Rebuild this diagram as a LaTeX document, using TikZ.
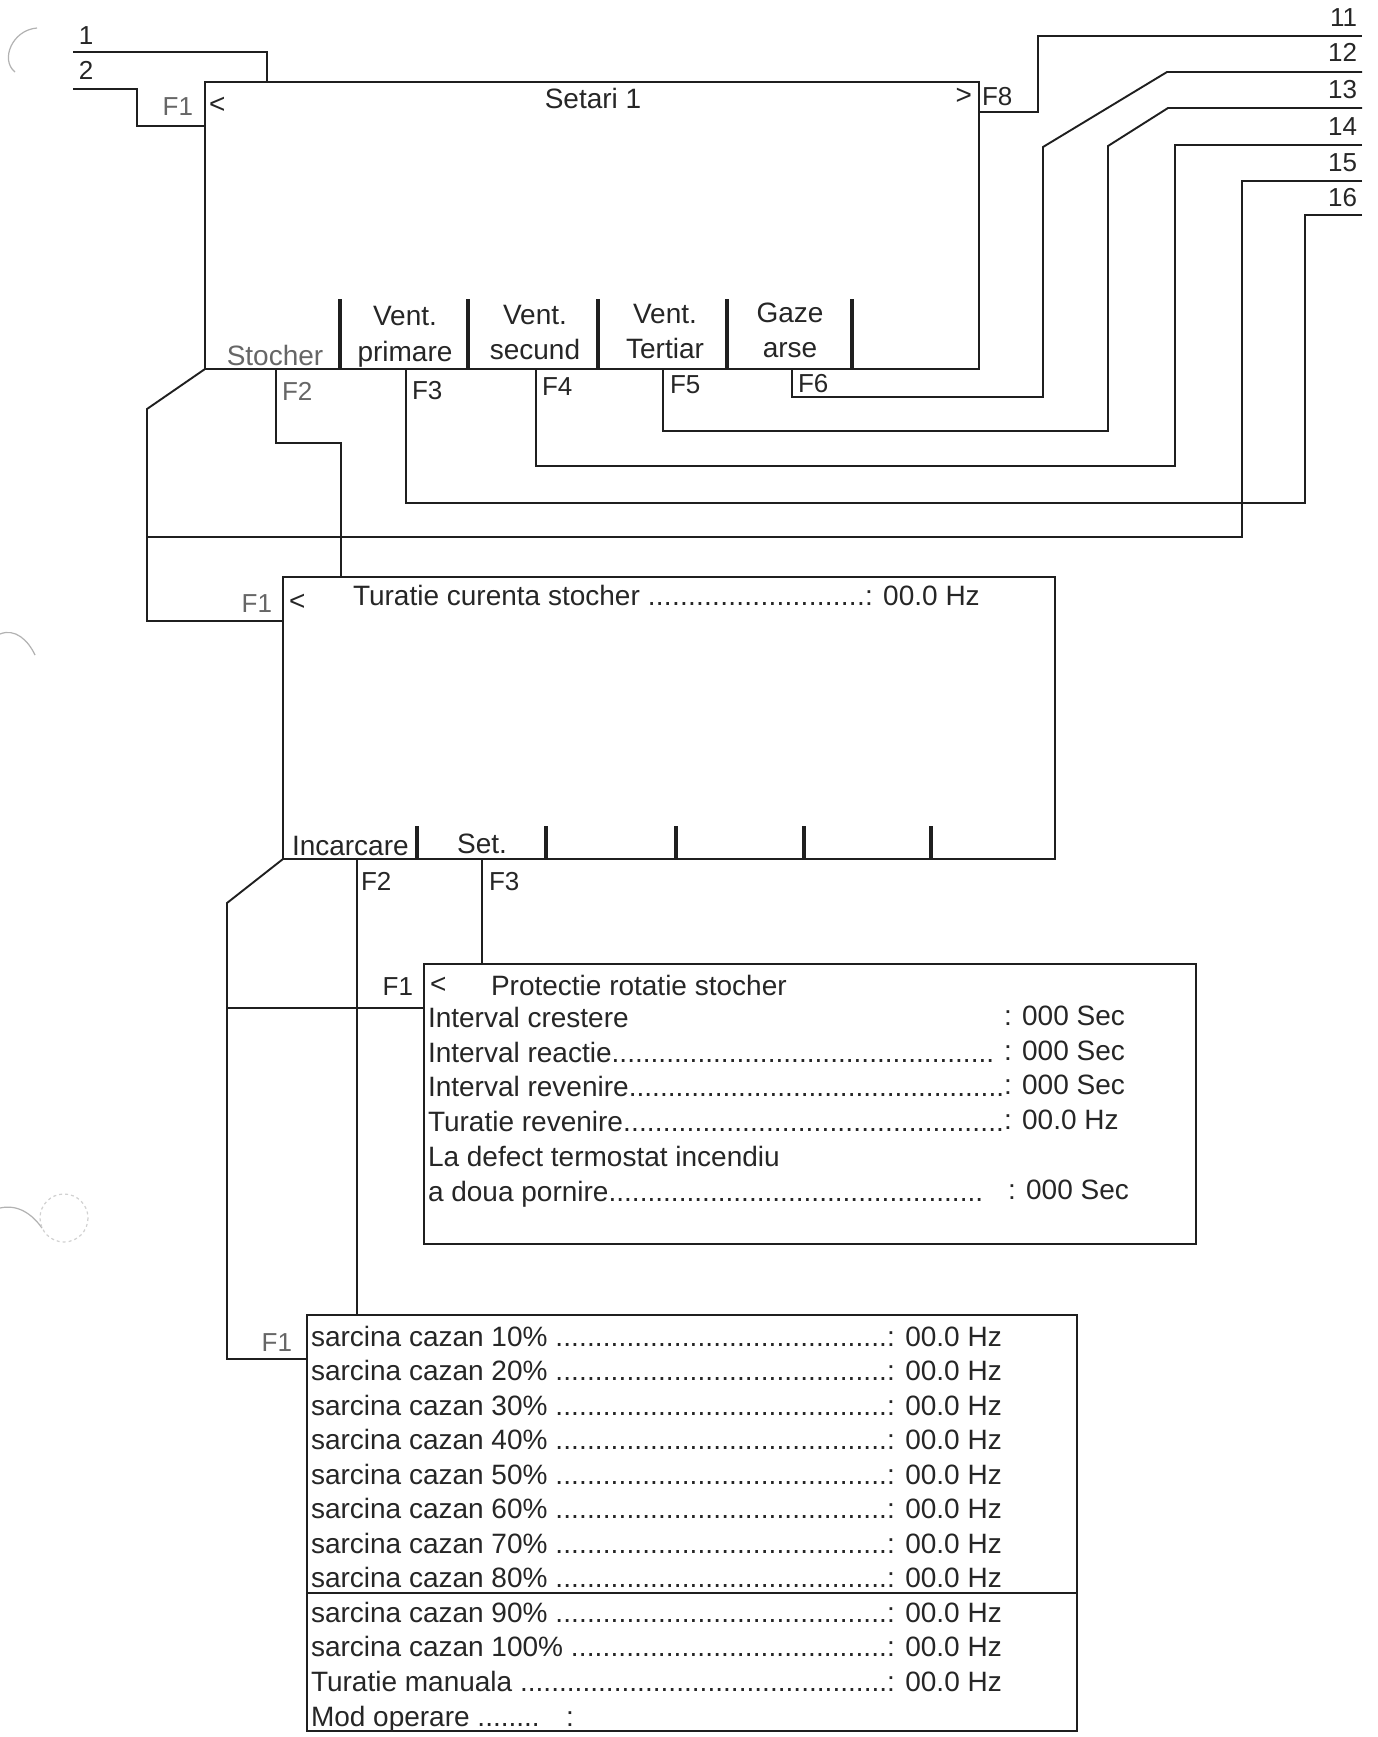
\documentclass[tikz,border=0pt]{standalone}
\usepackage{fontspec}
\newfontfamily\arialf{Liberation Sans}
\newcommand\mainf{\arialf\fontsize{28}{33}\selectfont}
\newcommand\smallf{\arialf\fontsize{26}{30}\selectfont}
\newcommand\dfill{\xleaders\hbox{.}\hfill}
\colorlet{linec}{black!88}
\colorlet{txtc}{black!85}
\colorlet{softc}{black!60}
\begin{document}
\begin{tikzpicture}[x=1pt,y=-1pt,
  box/.style={draw=linec,line width=2.4pt,inner sep=0pt,outer sep=0pt,anchor=north west},
  conn/.style={draw=linec,line width=1.9pt,line join=miter},
  sepline/.style={draw=linec,line width=3.6pt},
  txt/.style={inner sep=0pt,outer sep=0pt,text=txtc,font=\mainf},
  ftxt/.style={inner sep=0pt,outer sep=0pt,text=txtc,font=\smallf},
  soft/.style={text=softc},
  artefact/.style={draw=black!30,line width=1.2pt}]
\fill[white] (0,0) rectangle (1377,1737);
\useasboundingbox (0,0) rectangle (1377,1737);

% scan artefacts (punch holes)
\draw[artefact] (37,28) .. controls (12,30) and (0,60) .. (15,72);
\draw[artefact] (0,634) .. controls (15,628) and (28,640) .. (35,655);
\draw[artefact] (0,1208) .. controls (18,1204) and (32,1214) .. (42,1228);
\draw[artefact,dashed,draw=black!18] (64,1218) circle[radius=24];

% ---------------- boxes ----------------
\node[box,minimum width=774pt,minimum height=287pt] (s1) at (205,82) {};
\node[box,minimum width=772pt,minimum height=282pt] (s2) at (283,577) {};
\node[box,minimum width=772pt,minimum height=280pt] (s3) at (424,964) {};
\node[box,minimum width=770pt,minimum height=416pt] (s4) at (307,1315) {};
\draw[box] (307,1593) -- (1077,1593);

% soft-key separators
\foreach \x in {340,468,598,727,852} \draw[sepline] (\x,299) -- (\x,0 |- s1.south);
\foreach \x in {417,546,676,804,931} \draw[sepline] (\x,826) -- (\x,0 |- s2.south);

% ---------------- texts: Setari 1 ----------------
\node[ftxt,anchor=base] (t1) at (86,45) {1};
\node[ftxt,anchor=base] (t2) at (86,80) {2};
\node[ftxt,soft,anchor=base east] (s1f1) at (193,115) {F1};
\node[txt,anchor=base west] (s1lt) at (209,113) {<};
\node[txt,anchor=base] (s1title) at (593,108) {Setari 1};
\node[txt,anchor=base east] (s1gt) at (972,104) {>};
\node[ftxt,anchor=base west] (s1f8) at (982,105) {F8};
\node[txt,soft,anchor=base] (k1) at (275,365) {Stocher};
\node[txt,anchor=base] (k2a) at (405,325) {Vent.};
\node[txt,anchor=base] (k2b) at (405,361) {primare};
\node[txt,anchor=base] (k3a) at (535,324) {Vent.};
\node[txt,anchor=base] (k3b) at (535,359) {secund};
\node[txt,anchor=base] (k4a) at (665,323) {Vent.};
\node[txt,anchor=base] (k4b) at (665,358) {Tertiar};
\node[txt,anchor=base] (k5a) at (790,322) {Gaze};
\node[txt,anchor=base] (k5b) at (790,357) {arse};
\node[ftxt,soft,anchor=base west] (f2) at (282,400) {F2};
\node[ftxt,anchor=base west] (f3) at (412,399) {F3};
\node[ftxt,anchor=base west] (f4) at (542,395) {F4};
\node[ftxt,anchor=base west] (f5) at (670,393) {F5};
\node[ftxt,anchor=base west] (f6) at (798,392) {F6};
\node[ftxt,anchor=base east] (t11) at (1357,27) {11};
\node[ftxt,anchor=base east] (t12) at (1357,62) {12};
\node[ftxt,anchor=base east] (t13) at (1357,99) {13};
\node[ftxt,anchor=base east] (t14) at (1357,135) {14};
\node[ftxt,anchor=base east] (t15) at (1357,171) {15};
\node[ftxt,anchor=base east] (t16) at (1357,206) {16};

% ---------------- texts: Turatie ----------------
\node[ftxt,soft,anchor=base east] (s2f1) at (272,612) {F1};
\node[txt,anchor=base west] (s2lt) at (289,610) {<};
\node[txt,anchor=base west] (s2row) at (353,605) {\makebox[512pt][l]{Turatie curenta stocher \dfill}: 00.0 Hz};
\node[txt,anchor=base west] (s2k1) at (292,855) {Incarcare};
\node[txt,anchor=base] (s2k2) at (482,853) {Set.};
\node[ftxt,anchor=base west] (s2f2) at (361,890) {F2};
\node[ftxt,anchor=base west] (s2f3) at (489,890) {F3};

% ---------------- texts: Protectie ----------------
\node[ftxt,anchor=base east] (s3f1) at (413,995) {F1};
\node[txt,anchor=base west] (s3lt) at (430,993) {<};
\node[txt,anchor=base west] (s3title) at (491,995) {Protectie rotatie stocher};
\node[txt,anchor=base west] (p1) at (428,1027) {Interval crestere};
\node[txt,anchor=base west] (p2) at (428,1062) {\makebox[566pt][l]{Interval reactie\dfill}};
\node[txt,anchor=base west] (p3) at (428,1096) {\makebox[576pt][l]{Interval revenire\dfill}};
\node[txt,anchor=base west] (p4) at (428,1131) {\makebox[576pt][l]{Turatie revenire\dfill}};
\node[txt,anchor=base west] (p5) at (428,1166) {La defect termostat incendiu};
\node[txt,anchor=base west] (p6) at (428,1201) {\makebox[555pt][l]{a doua pornire\dfill}};
\node[txt,anchor=base west] (v1) at (1004,1025) {: 000 Sec};
\node[txt,anchor=base west] (v2) at (1004,1060) {: 000 Sec};
\node[txt,anchor=base west] (v3) at (1004,1094) {: 000 Sec};
\node[txt,anchor=base west] (v4) at (1004,1129) {: 00.0 Hz};
\node[txt,anchor=base west] (v6) at (1008,1199) {: 000 Sec};

% ---------------- texts: sarcina ----------------
\node[ftxt,soft,anchor=base east] (s4f1) at (292,1351) {F1};
\foreach \p [count=\i from 0] in {10,20,30,40,50,60,70,80,90,100}{
  \node[txt,anchor=base west] (r\i) at (311,1346+34.5*\i) {\makebox[576pt][l]{sarcina cazan \p\% \dfill}: 00.0 Hz};
}
\node[txt,anchor=base west] (r10) at (311,1691) {\makebox[576pt][l]{Turatie manuala \dfill}: 00.0 Hz};
\node[txt,anchor=base west] (r11) at (311,1726) {Mod operare ........ \hspace{16pt}:};

% ---------------- connectors ----------------
\coordinate (c1) at (73,52);
\coordinate (c2) at (73,89);
\draw[conn] (c1) -- (267,52) -- (267,0 |- s1.north);
\draw[conn] (c2) -- (137,89) -- (137,126) -- (137,126 -| s1.west);

\coordinate (c11) at (1362,36);
\coordinate (c12) at (1362,72);
\coordinate (c13) at (1362,108);
\coordinate (c14) at (1362,145);
\coordinate (c15) at (1362,181);
\coordinate (c16) at (1362,215);
\draw[conn] (s1.east |- 0,112) -- (1038,112) -- (1038,36) -- (c11);
\draw[conn] (c12) -- (1167,72) -- (1043,147) -- (1043,397) -- (792,397) -- (792,0 |- s1.south);
\draw[conn] (c13) -- (1168,108) -- (1108,146) -- (1108,431) -- (663,431) -- (663,0 |- s1.south);
\draw[conn] (c14) -- (1175,145) -- (1175,466) -- (536,466) -- (536,0 |- s1.south);
\draw[conn] (c16) -- (1305,215) -- (1305,503) -- (406,503) -- (406,0 |- s1.south);

% Stocher -> Turatie (F2), back line
\draw[conn] (276,0 |- s1.south) -- (276,443) -- (341,443) -- (341,0 |- s2.north);
\draw[conn] (s1.south west) -- (147,409) -- (147,621) -- (147,621 -| s2.west);
\coordinate (j15) at (147,537);
\draw[conn] (c15) -- (1242,181) -- (1242,537) -- (j15);

% Turatie -> sarcina / Protectie
\draw[conn] (357,0 |- s2.south) -- (357,0 |- s4.north);
\draw[conn] (482,0 |- s2.south) -- (482,0 |- s3.north);
\draw[conn] (s2.south west) -- (227,903) -- (227,1359) -- (227,1359 -| s4.west);
\coordinate (j3) at (227,1008);
\draw[conn] (s3.west |- j3) -- (j3);
\end{tikzpicture}
\end{document}
